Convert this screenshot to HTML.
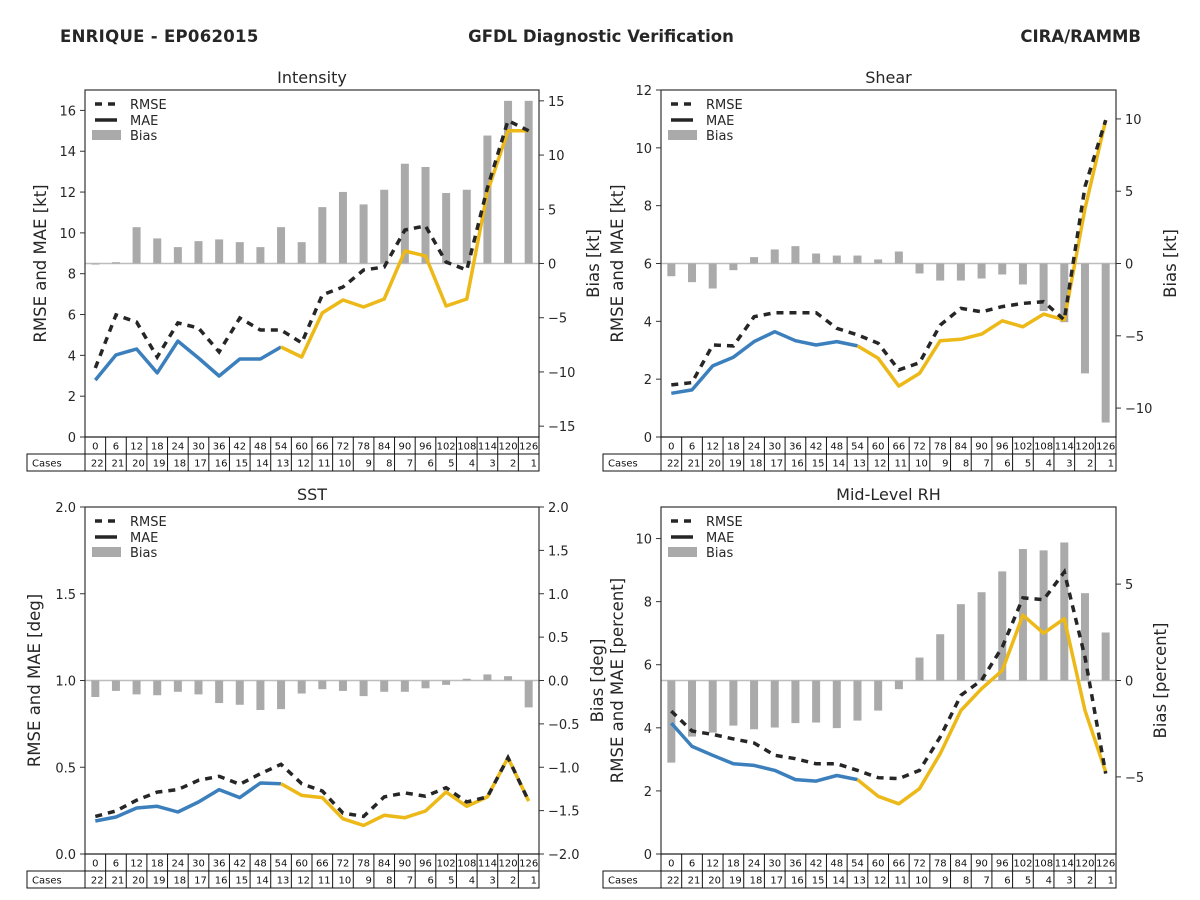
<!DOCTYPE html>
<html><head><meta charset="utf-8"><style>
body{margin:0;background:#fff;}
svg{display:block;font-family:"DejaVu Sans","Liberation Sans",sans-serif;}
</style></head><body>
<svg id="fig" width="1200" height="900" viewBox="0 0 1200 900">
<text x="60" y="42" font-size="16.5" font-weight="bold" fill="#262626" letter-spacing="0.3">ENRIQUE - EP062015</text>
<text x="601" y="42" font-size="16.5" font-weight="bold" fill="#262626" text-anchor="middle">GFDL Diagnostic Verification</text>
<text x="1141" y="42" font-size="16.5" font-weight="bold" fill="#262626" text-anchor="end">CIRA/RAMMB</text>
</svg>
<script>
const hours=[0,6,12,18,24,30,36,42,48,54,60,66,72,78,84,90,96,102,108,114,120,126];
const cases=[22,21,20,19,18,17,16,15,14,13,12,11,10,9,8,7,6,5,4,3,2,1];
const intRmse=[3.38,5.98,5.63,3.92,5.59,5.34,4.17,5.83,5.24,5.24,4.61,6.96,7.35,8.18,8.33,10.14,10.34,8.57,8.18,12.2,15.5,15.0];
const intMae=[2.79,4.02,4.31,3.14,4.70,3.87,2.99,3.82,3.82,4.41,3.92,6.08,6.71,6.37,6.76,9.11,8.87,6.42,6.76,12.0,15.0,15.0];
const intBias=[-0.1,0.12,3.35,2.31,1.51,2.06,2.22,1.97,1.51,3.35,1.97,5.2,6.6,5.45,6.8,9.2,8.9,6.5,6.8,11.8,15.0,15.0];
const shrRmse=[1.80,1.88,3.18,3.15,4.16,4.30,4.30,4.30,3.76,3.53,3.24,2.32,2.57,3.87,4.45,4.33,4.51,4.62,4.68,4.05,8.66,10.96];
const shrMae=[1.51,1.63,2.46,2.76,3.30,3.64,3.33,3.18,3.30,3.15,2.72,1.76,2.20,3.33,3.38,3.56,4.02,3.81,4.25,4.05,7.9,10.96];
const shrBias=[-0.88,-1.29,-1.73,-0.46,0.44,0.97,1.20,0.69,0.55,0.55,0.28,0.83,-0.69,-1.18,-1.18,-1.04,-0.76,-1.45,-3.29,-4.06,-7.60,-11.0];
const sstRmse=[0.217,0.248,0.310,0.357,0.371,0.425,0.448,0.402,0.463,0.517,0.405,0.363,0.236,0.217,0.329,0.352,0.333,0.382,0.300,0.329,0.555,0.305];
const sstMae=[0.190,0.213,0.265,0.275,0.242,0.300,0.371,0.325,0.409,0.405,0.338,0.325,0.203,0.165,0.223,0.209,0.248,0.357,0.275,0.329,0.555,0.305];
const sstBias=[-0.19,-0.12,-0.16,-0.17,-0.13,-0.16,-0.26,-0.28,-0.34,-0.33,-0.15,-0.10,-0.12,-0.18,-0.13,-0.13,-0.09,-0.05,0.02,0.07,0.05,-0.31];
const rhRmse=[4.53,3.90,3.79,3.65,3.52,3.13,3.02,2.86,2.86,2.65,2.42,2.39,2.65,3.71,5.03,5.51,6.56,8.12,8.06,8.94,6.24,2.55];
const rhMae=[4.15,3.41,3.13,2.86,2.81,2.65,2.36,2.31,2.49,2.36,1.83,1.59,2.07,3.18,4.55,5.24,5.82,7.57,7.00,7.46,4.55,2.60];
const rhBias=[-4.26,-2.91,-2.70,-2.34,-2.53,-2.44,-2.21,-2.18,-2.47,-2.08,-1.56,-0.45,1.19,2.40,3.96,4.58,5.66,6.82,6.75,7.16,4.53,2.49];

const NS='http://www.w3.org/2000/svg';
const fig=document.getElementById('fig');
function mk(tag,attrs,parent,text){const e=document.createElementNS(NS,tag);for(const k in attrs)e.setAttribute(k,attrs[k]);if(text!==undefined)e.textContent=text;(parent||fig).appendChild(e);return e;}

function panel(cfg){
  const g=mk('g',{});
  
  
  const L=cfg.L,R=cfg.R,T=cfg.T,B=cfg.B;
  const n=hours.length,cw=(R-L)/n;
  const xs=i=>L+cw*(i+0.5);
  const yl=v=>B-(v-cfg.lmin)/(cfg.lmax-cfg.lmin)*(B-T);
  const yr=v=>B-(v-cfg.rmin)/(cfg.rmax-cfg.rmin)*(B-T);
  const t=mk('text',{x:(L+R)/2,y:T-7,'font-size':16,'text-anchor':'middle',fill:'#262626'},g,cfg.title);
  
  
  mk('line',{x1:L,x2:R,y1:yr(0),y2:yr(0),stroke:'#bdbdbd','stroke-width':1.5},g);
  cfg.bias.forEach((v,i)=>{
    const y0=yr(0),y1=yr(v);
    const b=mk('rect',{x:xs(i)-4,y:Math.min(y0,y1),width:8,height:Math.max(0.5,Math.abs(y1-y0)),fill:'#aaaaaa'},g);
    
    
  });
  const seg=(arr,a,b)=>arr.slice(a,b+1).map((v,k)=>xs(a+k).toFixed(1)+','+yl(v).toFixed(1)).join(' ');
  const m1=mk('polyline',{points:seg(cfg.mae,0,9),fill:'none',stroke:'#3b7fbc','stroke-width':3.5,'stroke-linejoin':'round'},g);
  
  
  const m2=mk('polyline',{points:seg(cfg.mae,9,n-1),fill:'none',stroke:'#ecb918','stroke-width':3.5,'stroke-linejoin':'round'},g);
  
  
  const r=mk('polyline',{points:seg(cfg.rmse,0,n-1),fill:'none',stroke:'#262626','stroke-width':3.5,'stroke-dasharray':'7 6'},g);
  
  
  mk('rect',{x:L,y:T,width:R-L,height:B-T,fill:'none',stroke:'#333','stroke-width':1.2},g);
  cfg.lticks.forEach(v=>{
    const y=yl(v);
    mk('line',{x1:L-5,x2:L,y1:y,y2:y,stroke:'#333'},g);
    const tl=mk('text',{x:L-9,y:y+5,'font-size':13,'text-anchor':'end',fill:'#262626'},g,cfg.lfmt(v));
    
    
  });
  cfg.rticks.forEach(v=>{
    const y=yr(v);
    mk('line',{x1:R,x2:R+5,y1:y,y2:y,stroke:'#333'},g);
    const tr=mk('text',{x:R+9,y:y+5,'font-size':13,fill:'#262626'},g,cfg.rfmt(v));
    
    
  });
  const la=mk('text',{transform:`translate(${cfg.lx},${(T+B)/2}) rotate(-90)`,'font-size':16.5,'text-anchor':'middle',fill:'#262626'},g,cfg.ylabel);
  
  
  const ra=mk('text',{transform:`translate(${cfg.rx},${(T+B)/2}) rotate(-90)`,'font-size':16.5,'text-anchor':'middle',fill:'#262626'},g,cfg.rlabel);
  
  
  const lg=mk('g',{},g);
  
  
  mk('line',{x1:L+10,x2:L+32,y1:T+14,y2:T+14,stroke:'#262626','stroke-width':3.5,'stroke-dasharray':'7 6'},lg);
  mk('text',{x:L+45,y:T+19,'font-size':13,fill:'#262626'},lg,'RMSE');
  mk('line',{x1:L+10,x2:L+32,y1:T+30,y2:T+30,stroke:'#262626','stroke-width':3.5},lg);
  mk('text',{x:L+45,y:T+35,'font-size':13,fill:'#262626'},lg,'MAE');
  mk('rect',{x:L+7,y:T+40,width:29,height:10,fill:'#aaaaaa'},lg);
  mk('text',{x:L+45,y:T+50,'font-size':13,fill:'#262626'},lg,'Bias');
  const tb=mk('g',{},g);
  
  
  const r1=B,r2=B+17,r3=B+34;
  mk('rect',{x:L-58,y:r2,width:R-L+58,height:17,fill:'none',stroke:'#111','stroke-width':1},tb);
  mk('rect',{x:L,y:r1,width:R-L,height:17,fill:'none',stroke:'#111','stroke-width':1},tb);
  mk('text',{x:L-53,y:r2+12.5,'font-size':10,fill:'#111'},tb,'Cases');
  hours.forEach((h,i)=>{
    const x0=L+cw*i;
    mk('line',{x1:x0,x2:x0,y1:r1,y2:r3,stroke:'#111'},tb);
    mk('text',{x:x0+cw/2,y:r1+12.5,'font-size':10,'text-anchor':'middle',fill:'#111'},tb,String(h));
    mk('text',{x:x0+cw-2,y:r2+12.5,'font-size':10,'text-anchor':'end',fill:'#111'},tb,String(cases[i]));
  });
}
const ticks=(a,b,s)=>{const o=[];for(let v=a;v<=b+1e-9;v+=s)o.push(Math.round(v*100)/100);return o;};
const neg=v=>(v<0?'\u2212':'')+Math.abs(v);
const neg1=v=>(v<0?'\u2212':'')+Math.abs(v).toFixed(1);
panel({name:'intensity',title:'Intensity',L:85,R:539,T:90,B:437,lmin:0,lmax:17,rmin:-16,rmax:16,
  lticks:ticks(0,16,2),rticks:ticks(-15,15,5),lfmt:neg,rfmt:neg,rmse:intRmse,mae:intMae,bias:intBias,
  ylabel:'RMSE and MAE [kt]',rlabel:'Bias [kt]',lx:46,rx:599});
panel({name:'shear',title:'Shear',L:661,R:1116,T:90,B:437,lmin:0,lmax:12,rmin:-12,rmax:12,
  lticks:ticks(0,12,2),rticks:ticks(-10,10,5),lfmt:neg,rfmt:neg,rmse:shrRmse,mae:shrMae,bias:shrBias,
  ylabel:'RMSE and MAE [kt]',rlabel:'Bias [kt]',lx:623,rx:1176});
panel({name:'sst',title:'SST',L:85,R:539,T:507,B:854,lmin:0,lmax:2,rmin:-2,rmax:2,
  lticks:ticks(0,2,0.5),rticks:ticks(-2,2,0.5),lfmt:neg1,rfmt:neg1,rmse:sstRmse,mae:sstMae,bias:sstBias,
  ylabel:'RMSE and MAE [deg]',rlabel:'Bias [deg]',lx:40,rx:603});
panel({name:'mid-level-rh',title:'Mid-Level RH',L:661,R:1116,T:507,B:854,lmin:0,lmax:11,rmin:-9,rmax:9,
  lticks:ticks(0,10,2),rticks:ticks(-5,5,5),lfmt:neg,rfmt:neg,rmse:rhRmse,mae:rhMae,bias:rhBias,
  ylabel:'RMSE and MAE [percent]',rlabel:'Bias [percent]',lx:623,rx:1166});
</script>
</body></html>
